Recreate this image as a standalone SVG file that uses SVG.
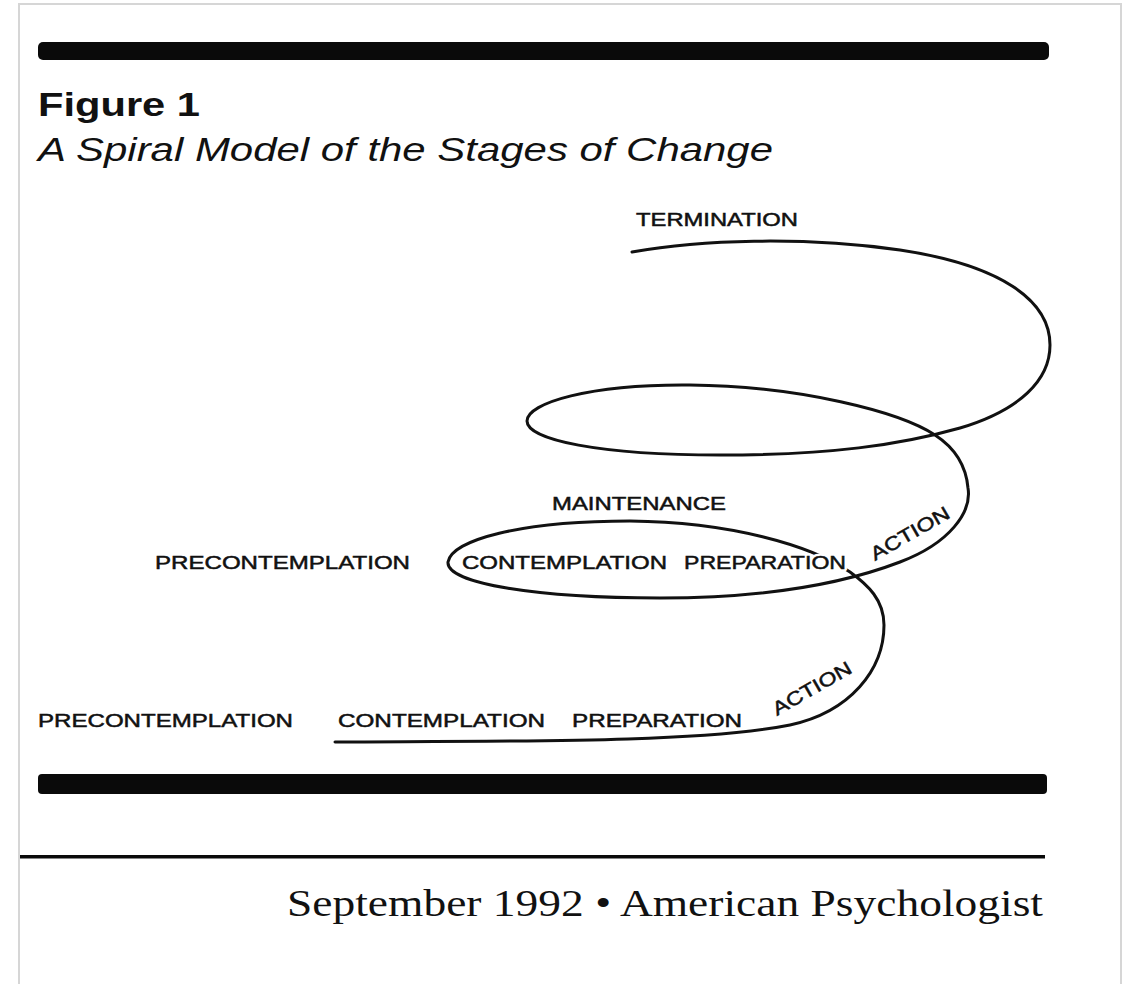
<svg xmlns="http://www.w3.org/2000/svg" width="1123" height="984" viewBox="0 0 1123 984">
<style>
.lbl{font-family:"Liberation Sans",Arial,sans-serif;font-size:19px;fill:#111;stroke:#111;stroke-width:0.5px;}
.halo{fill:#fff;stroke:#fff;stroke-width:5px;stroke-linejoin:round;}
.curve{fill:none;stroke:#111;stroke-width:3;stroke-linecap:round;stroke-linejoin:round;}
.bar{fill:#0a0a0a;}
</style>
<rect x="0" y="0" width="1123" height="984" fill="#fff"/>
<rect x="19" y="4" width="1102" height="1000" fill="none" stroke="#d6d6d6" stroke-width="2"/>
<g id="rules">
<rect class="bar" x="38" y="42" width="1011" height="18" rx="5"/>
<rect class="bar" x="38" y="774" width="1009" height="20" rx="4"/>
<rect class="bar" x="20" y="855" width="1025" height="3.5"/>
</g>
<g id="title">
<text x="38" y="116" font-family="'Liberation Sans',Arial,sans-serif" font-weight="bold" font-size="33" textLength="162" lengthAdjust="spacingAndGlyphs" fill="#111">Figure 1</text>
<text x="38" y="161" font-family="'Liberation Sans',Arial,sans-serif" font-style="italic" font-size="34" textLength="735" lengthAdjust="spacingAndGlyphs" fill="#111">A Spiral Model of the Stages of Change</text>
</g>
<g id="connectors">
<path class="curve" d="M335,742 C520,741 700,743 790,725 C850,712 884,670 884,625 C884,600 868,585 850,572 C810,545 730,522 630,521 C520,521 452,540 448,562 C446,584 540,598 660,598 C760,598 840,585 900,562 C950,543 972,512 968,488 C966,465 955,448 935,435 C900,412 800,386 690,385 C590,384 527,403 527,421 C527,440 600,455 720,455 C830,455 900,445 960,428 C1020,410 1050,380 1050,345 C1050,300 1000,265 900,250 C800,236 700,240 632,252"/>
</g>
<g id="termination"><text class="lbl" x="636" y="226" textLength="162" lengthAdjust="spacingAndGlyphs">TERMINATION</text></g>
<g id="maintenance"><text class="lbl" x="552" y="510" textLength="174" lengthAdjust="spacingAndGlyphs">MAINTENANCE</text></g>
<g id="precontemplation-2"><text class="lbl" x="155" y="569" textLength="255" lengthAdjust="spacingAndGlyphs">PRECONTEMPLATION</text></g>
<g id="contemplation-2"><text class="lbl halo" x="462" y="569" textLength="205" lengthAdjust="spacingAndGlyphs">CONTEMPLATION</text><text class="lbl" x="462" y="569" textLength="205" lengthAdjust="spacingAndGlyphs">CONTEMPLATION</text></g>
<g id="preparation-2"><text class="lbl halo" x="684" y="569" textLength="162" lengthAdjust="spacingAndGlyphs">PREPARATION</text><text class="lbl" x="684" y="569" textLength="162" lengthAdjust="spacingAndGlyphs">PREPARATION</text></g>
<g id="action-2"><text class="lbl" transform="translate(875,561) rotate(-30)" x="0" y="0" textLength="88" lengthAdjust="spacingAndGlyphs">ACTION</text></g>
<g id="precontemplation-1"><text class="lbl" x="38" y="727" textLength="255" lengthAdjust="spacingAndGlyphs">PRECONTEMPLATION</text></g>
<g id="contemplation-1"><text class="lbl" x="338" y="727" textLength="207" lengthAdjust="spacingAndGlyphs">CONTEMPLATION</text></g>
<g id="preparation-1"><text class="lbl" x="572" y="727" textLength="170" lengthAdjust="spacingAndGlyphs">PREPARATION</text></g>
<g id="action-1"><text class="lbl" transform="translate(777,716) rotate(-30)" x="0" y="0" textLength="88" lengthAdjust="spacingAndGlyphs">ACTION</text></g>
<g id="footer"><text x="287" y="916" font-family="'Liberation Serif','Times New Roman',serif" font-size="38" textLength="756" lengthAdjust="spacingAndGlyphs" fill="#111">September 1992 • American Psychologist</text></g>
</svg>
